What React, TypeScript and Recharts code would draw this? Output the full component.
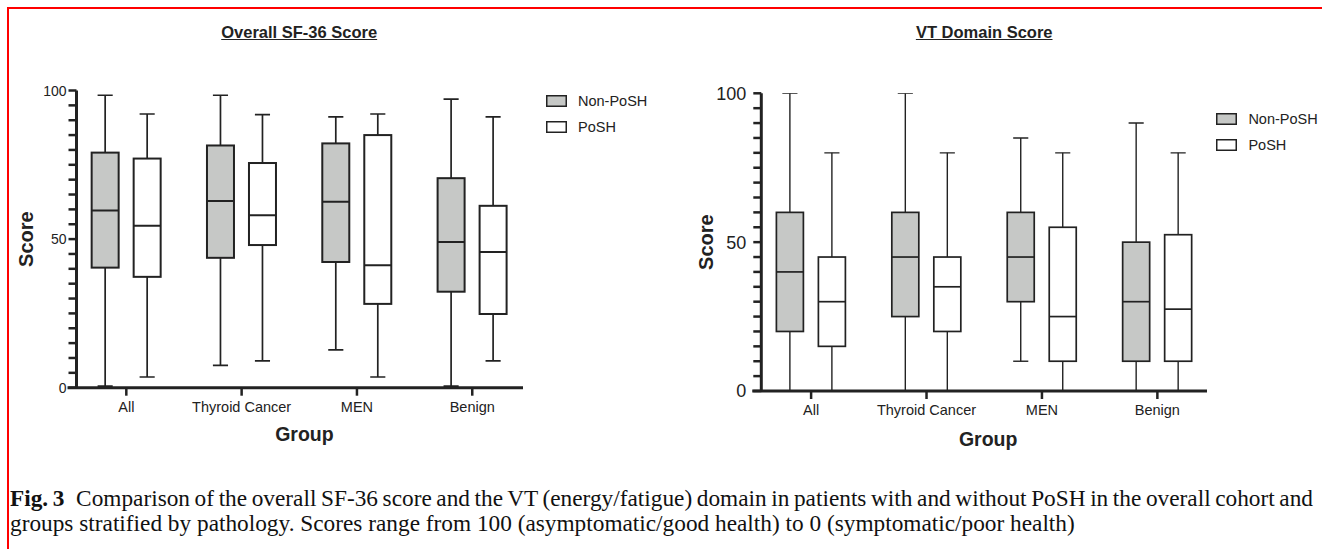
import { Bar, ComposedChart, Label, Legend, ReferenceLine, XAxis, YAxis } from 'recharts'

// groups on the x axis, and the two series
const groups = ['All', 'Thyroid Cancer', 'MEN', 'Benign']
const seriesNames = ['Non-PoSH', 'PoSH']

const yTicks = [0, 5, 10, 15, 20, 25, 30, 35, 40, 45, 50, 55, 60, 65, 70, 75, 80, 85, 90, 95, 100]
const yLabels = [0, 50, 100]

// box summaries per group: [min, q1, median, q3, max]
const overallNonPosh = [
	[0.5, 40.4, 59.6, 79.1, 98.4],
	[7.5, 43.7, 62.8, 81.5, 98.4],
	[12.7, 42.3, 62.6, 82.2, 91.1],
	[0.5, 32.3, 49.0, 70.5, 97.1],
]
const overallPosh = [
	[3.6, 37.3, 54.5, 77.1, 92.1],
	[9.0, 48.0, 58.0, 75.6, 91.9],
	[3.6, 28.2, 41.2, 85.0, 92.1],
	[9.0, 24.8, 45.7, 61.2, 91.1],
]
const vtNonPosh = [
	[0, 20, 40, 60, 100],
	[0, 25, 45, 60, 100],
	[10, 30, 45, 60, 85],
	[0, 10, 30, 50, 90],
]
const vtPosh = [
	[0, 15, 30, 45, 80],
	[0, 20, 35, 45, 80],
	[0, 10, 25, 55, 80],
	[0, 10, 27.5, 52.5, 80],
]

const INK = '#222'
const GRAY = '#c6c8c6'
const FONT = '"Liberation Sans", Arial, Helvetica, sans-serif'

type Row = { pos: number; group: string; non: number[]; posh: number[] }

const makeRows = (non: number[][], posh: number[][]): Row[] =>
	groups.map((g, i) => ({ pos: i, group: g, non: non[i], posh: posh[i] }))

type Panel = {
	width: number
	height: number
	margin: { top: number; right: number; bottom: number; left: number }
	xDomain: [number, number]
	lineStart: number
	tickFont: number
	tickMargin: number
	boxStroke: number
	whiskerStroke: number
	scoreDx: number
	groupDx: number
	groupDy: number
	legendLeft: number
	legendTop: number
}

const leftPanel: Panel = {
	width: 660,
	height: 460,
	margin: { top: 90.5, right: 137, bottom: 22.3, left: 16.5 },
	xDomain: [-0.432, 3.44],
	lineStart: -0.51,
	tickFont: 14,
	tickMargin: 2,
	boxStroke: 2,
	whiskerStroke: 1.7,
	scoreDx: 9.8,
	groupDx: 4.7,
	groupDy: 53,
	legendLeft: 546,
	legendTop: 88.6,
}

const rightPanel: Panel = {
	width: 662,
	height: 460,
	margin: { top: 93.3, right: 115, bottom: 19, left: 41.3 },
	xDomain: [-0.4315, 3.43],
	lineStart: -0.51,
	tickFont: 18,
	tickMargin: 7,
	boxStroke: 1.7,
	whiskerStroke: 1.4,
	scoreDx: 4.7,
	groupDx: 4,
	groupDy: 54.5,
	legendLeft: 556.4,
	legendTop: 106.5,
}

function BoxShape(props: any) {
	const { x, y, width, height, stats, fill, boxStroke, whiskerStroke } = props
	const [lo, q1, med, q3, hi] = stats
	const toY = (v: number) => y + (height * (hi - v)) / (hi - lo)
	const cx = x + width / 2
	const half = width * 0.28
	return (
		<g stroke={INK} fill='none'>
			<line x1={cx} x2={cx} y1={toY(hi)} y2={toY(q3)} strokeWidth={whiskerStroke} />
			<line x1={cx} x2={cx} y1={toY(q1)} y2={toY(lo)} strokeWidth={whiskerStroke} />
			<line x1={cx - half} x2={cx + half} y1={toY(hi)} y2={toY(hi)} strokeWidth={whiskerStroke} />
			<line x1={cx - half} x2={cx + half} y1={toY(lo)} y2={toY(lo)} strokeWidth={whiskerStroke} />
			<rect x={x} y={toY(q3)} width={width} height={toY(q1) - toY(q3)} fill={fill} strokeWidth={boxStroke} />
			<line x1={x} x2={x + width} y1={toY(med)} y2={toY(med)} strokeWidth={boxStroke} />
		</g>
	)
}

function YTick(props: any) {
	const { x, y, payload, fontSize } = props
	if (!yLabels.includes(payload.value)) return <g />
	return (
		<text x={x} y={y} dy={fontSize * 0.36} textAnchor='end' fontSize={fontSize} fill={INK}>
			{payload.value}
		</text>
	)
}

function LegendBox(props: any) {
	const items = props.payload || []
	return (
		<div style={{ fontFamily: FONT, fontSize: 14.5, color: INK }}>
			{items.map((e: any) => (
				<div key={e.value} style={{ display: 'flex', alignItems: 'center', height: 25.5 }}>
					<svg width={21} height={12}>
						<rect x={0.75} y={0.75} width={19.5} height={10.5} fill={e.color} stroke={INK} strokeWidth={1.5} />
					</svg>
					<span style={{ marginLeft: 11, lineHeight: 1 }}>{e.value}</span>
				</div>
			))}
		</div>
	)
}

function BoxChart({ rows, panel }: { rows: Row[]; panel: Panel }) {
	const scoreLabel = (p: any) => {
		const vb = p.viewBox
		const cx = vb.x + panel.scoreDx
		const cy = vb.y + vb.height / 2
		return (
			<text
				x={cx}
				y={cy}
				transform={`rotate(-90 ${cx} ${cy})`}
				textAnchor='middle'
				dominantBaseline='central'
				fontSize={20}
				fontWeight='bold'
				fill={INK}
			>
				Score
			</text>
		)
	}
	const groupLabel = (p: any) => {
		const vb = p.viewBox
		return (
			<text
				x={vb.x + vb.width / 2 + panel.groupDx}
				y={vb.y + panel.groupDy}
				textAnchor='middle'
				fontSize={19.5}
				fontWeight='bold'
				fill={INK}
			>
				Group
			</text>
		)
	}

	return (
		<ComposedChart
			width={panel.width}
			height={panel.height}
			data={rows}
			margin={panel.margin}
			barGap={15}
			style={{ fontFamily: FONT }}
		>
			<XAxis
				type='number'
				dataKey='pos'
				domain={panel.xDomain}
				ticks={[0, 1, 2, 3]}
				interval={0}
				allowDataOverflow
				tickFormatter={(i: number) => groups[i]}
				axisLine={false}
				tickLine={{ stroke: INK, strokeWidth: 2.5 }}
				tickSize={8}
				tickMargin={6}
				height={50}
				tick={{ fontSize: 14.5, fill: INK }}
			>
				<Label content={groupLabel} />
			</XAxis>
			<YAxis
				type='number'
				domain={[0, 100]}
				ticks={yTicks}
				interval={0}
				allowDataOverflow
				width={60}
				tickSize={8}
				tickMargin={panel.tickMargin}
				axisLine={{ stroke: INK, strokeWidth: 3 }}
				tickLine={{ stroke: INK, strokeWidth: 2.5 }}
				tick={(p: any) => <YTick {...p} fontSize={panel.tickFont} />}
			>
				<Label content={scoreLabel} />
			</YAxis>
			<ReferenceLine
				segment={[
					{ x: panel.lineStart, y: 0 },
					{ x: panel.xDomain[1], y: 0 },
				]}
				stroke={INK}
				strokeWidth={3}
				ifOverflow='visible'
			/>
			<Bar
				name={seriesNames[0]}
				dataKey={(d: Row) => [d.non[0], d.non[4]]}
				fill={GRAY}
				barSize={27}
				isAnimationActive={false}
				shape={(p: any) => (
					<BoxShape {...p} stats={p.payload.non} fill={GRAY} boxStroke={panel.boxStroke} whiskerStroke={panel.whiskerStroke} />
				)}
			/>
			<Bar
				name={seriesNames[1]}
				dataKey={(d: Row) => [d.posh[0], d.posh[4]]}
				fill='#ffffff'
				barSize={27}
				isAnimationActive={false}
				shape={(p: any) => (
					<BoxShape {...p} stats={p.payload.posh} fill='#ffffff' boxStroke={panel.boxStroke} whiskerStroke={panel.whiskerStroke} />
				)}
			/>
			<Legend
				layout='vertical'
				align='center'
				verticalAlign='middle'
				wrapperStyle={{ left: panel.legendLeft, top: panel.legendTop, width: 130 }}
				content={LegendBox}
			/>
		</ComposedChart>
	)
}

const titleStyle = (center: number): React.CSSProperties => ({
	position: 'absolute',
	left: center - 200,
	top: 23,
	width: 400,
	textAlign: 'center',
	fontFamily: FONT,
	fontWeight: 'bold',
	fontSize: 16.5,
	lineHeight: '18px',
	textDecoration: 'underline',
	color: INK,
})

export default function App() {
	return (
		<div
			style={{
				position: 'absolute',
				left: 0,
				top: 0,
				width: 1322,
				height: 549,
				background: '#fff',
				overflow: 'hidden',
			}}
		>
			<div
				style={{
					position: 'absolute',
					left: 7,
					top: 7,
					width: 1320,
					height: 545,
					borderTop: '2px solid #f00',
					borderLeft: '2px solid #f00',
				}}
			/>
			<div style={{ position: 'absolute', left: 0, top: 0 }}>
				<BoxChart rows={makeRows(overallNonPosh, overallPosh)} panel={leftPanel} />
			</div>
			<div style={{ position: 'absolute', left: 660, top: 0 }}>
				<BoxChart rows={makeRows(vtNonPosh, vtPosh)} panel={rightPanel} />
			</div>
			<div style={titleStyle(299.2)}>Overall SF-36 Score</div>
			<div style={titleStyle(984.2)}>VT Domain Score</div>
			<div
				style={{
					position: 'absolute',
					left: 10,
					top: 486,
					width: 1303,
					fontFamily: '"Liberation Serif", "Times New Roman", serif',
					fontSize: 23.3,
					lineHeight: '25px',
					color: '#111',
				}}
			>
				<div style={{ whiteSpace: 'nowrap', wordSpacing: -3, textAlign: 'justify', textAlignLast: 'justify' }}>
					<b>Fig. 3</b>
					{'\u2002'}Comparison of the overall SF-36 score and the VT (energy/fatigue) domain in patients with and
					without PoSH in the overall cohort and
				</div>
				<div>
					groups stratified by pathology. Scores range from 100 (asymptomatic/good health) to 0 (symptomatic/poor
					health)
				</div>
			</div>
		</div>
	)
}
